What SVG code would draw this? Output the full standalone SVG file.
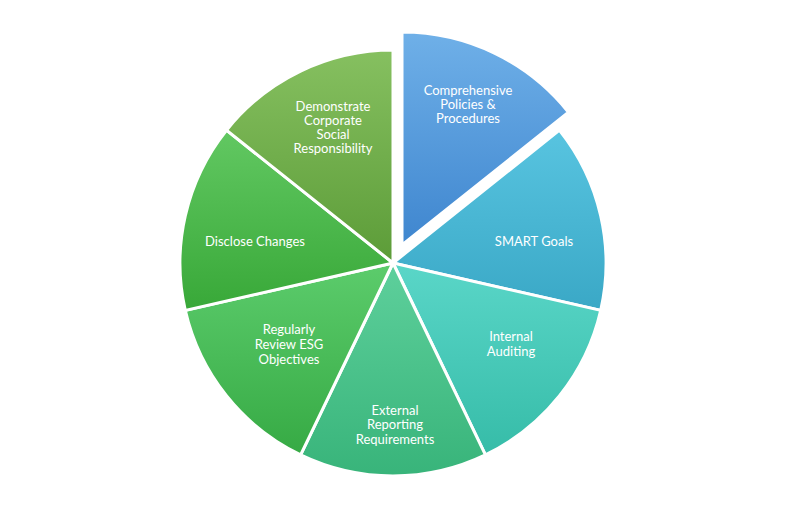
<svg xmlns="http://www.w3.org/2000/svg" width="800" height="506" viewBox="0 0 800 506">
<defs>
<linearGradient id="g1" x1="0" y1="0" x2="0" y2="1"><stop offset="0" stop-color="#6fb0e8"/><stop offset="1" stop-color="#3f86cf"/></linearGradient>
<linearGradient id="g2" x1="0" y1="0" x2="0" y2="1"><stop offset="0" stop-color="#58c4e0"/><stop offset="1" stop-color="#3aa8c6"/></linearGradient>
<linearGradient id="g3" x1="0" y1="0" x2="0" y2="1"><stop offset="0" stop-color="#5ad6c8"/><stop offset="1" stop-color="#36bca8"/></linearGradient>
<linearGradient id="g4" x1="0" y1="0" x2="0" y2="1"><stop offset="0" stop-color="#5ed09c"/><stop offset="1" stop-color="#38b47a"/></linearGradient>
<linearGradient id="g5" x1="0" y1="0" x2="0" y2="1"><stop offset="0" stop-color="#5ccc6c"/><stop offset="1" stop-color="#36aa44"/></linearGradient>
<linearGradient id="g6" x1="0" y1="0" x2="0" y2="1"><stop offset="0" stop-color="#62c862"/><stop offset="1" stop-color="#38a838"/></linearGradient>
<linearGradient id="g7" x1="0" y1="0" x2="0" y2="1"><stop offset="0" stop-color="#86c060"/><stop offset="1" stop-color="#5c9c38"/></linearGradient>
</defs>
<style>
.s{stroke:#fff;stroke-width:3;stroke-linejoin:miter}
.t{font-family:Lato,"Liberation Sans",sans-serif;font-size:13px;fill:#fff;text-anchor:middle}
</style>
<rect width="800" height="506" fill="#fff"/>
<g id="n1" transform="translate(9,-18)"><path class="s" fill="url(#g1)" d="M393 263 L393 50 A213 213 0 0 1 559.5 130.2 Z"/><text class="t" x="459" y="113">Comprehensive</text><text class="t" x="459" y="127">Policies &amp;</text><text class="t" x="459" y="141">Procedures</text></g>
<g id="n2"><path class="s" fill="url(#g2)" d="M393 263 L559.5 130.2 A213 213 0 0 1 600.7 310.4 Z"/><text class="t" x="534" y="246">SMART Goals</text></g>
<g id="n3"><path class="s" fill="url(#g3)" d="M393 263 L600.7 310.4 A213 213 0 0 1 485.4 454.9 Z"/><text class="t" x="511" y="341">Internal</text><text class="t" x="511" y="356">Auditing</text></g>
<g id="n4"><path class="s" fill="url(#g4)" d="M393 263 L485.4 454.9 A213 213 0 0 1 300.6 454.9 Z"/><text class="t" x="395" y="415">External</text><text class="t" x="395" y="429">Reporting</text><text class="t" x="395" y="444">Requirements</text></g>
<g id="n5"><path class="s" fill="url(#g5)" d="M393 263 L300.6 454.9 A213 213 0 0 1 185.3 310.4 Z"/><text class="t" x="289" y="334">Regularly</text><text class="t" x="289" y="349">Review ESG</text><text class="t" x="289" y="364">Objectives</text></g>
<g id="n6"><path class="s" fill="url(#g6)" d="M393 263 L185.3 310.4 A213 213 0 0 1 226.5 130.2 Z"/><text class="t" x="255" y="246">Disclose Changes</text></g>
<g id="n7"><path class="s" fill="url(#g7)" d="M393 263 L226.5 130.2 A213 213 0 0 1 393 50 Z"/><text class="t" x="333" y="111">Demonstrate</text><text class="t" x="333" y="125">Corporate</text><text class="t" x="333" y="139">Social</text><text class="t" x="333" y="153">Responsibility</text></g>
<g id="connectors"/>
</svg>
